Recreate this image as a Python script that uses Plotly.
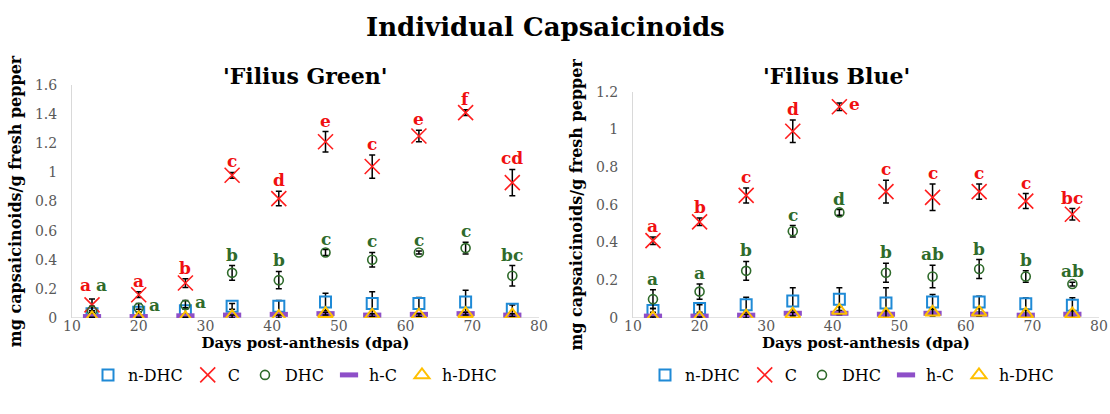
import plotly.graph_objects as go

# ---------------- data ----------------
days = [13, 20, 27, 34, 41, 48, 55, 62, 69, 76]
series_names = ["n-DHC", "C", "DHC", "h-C", "h-DHC"]

# 'Filius Green'
green_ndhc = [0.03, 0.04, 0.05, 0.08, 0.08, 0.11, 0.10, 0.10, 0.11, 0.06]
green_ndhc_err = [0.01, 0.02, 0.02, 0.02, 0.04, 0.06, 0.08, 0.04, 0.08, 0.03]
green_c = [0.09, 0.16, 0.24, 0.98, 0.82, 1.21, 1.04, 1.25, 1.41, 0.93]
green_c_err = [0.04, 0.02, 0.03, 0.02, 0.05, 0.07, 0.08, 0.04, 0.02, 0.09]
green_dhc = [0.05, 0.07, 0.09, 0.31, 0.26, 0.45, 0.40, 0.45, 0.48, 0.29]
green_dhc_err = [0.03, 0.03, 0.03, 0.05, 0.06, 0.02, 0.05, 0.01, 0.04, 0.07]
green_hc = [0.01, 0.01, 0.015, 0.02, 0.025, 0.03, 0.02, 0.025, 0.03, 0.02]
green_hc_err = [0.005, 0.005, 0.005, 0.01, 0.01, 0.01, 0.01, 0.01, 0.01, 0.01]
green_hdhc = [0.0, 0.0, 0.0, 0.01, 0.01, 0.03, 0.02, 0.02, 0.03, 0.02]
green_hdhc_err = [0.005, 0.005, 0.005, 0.01, 0.01, 0.01, 0.01, 0.01, 0.01, 0.01]
green_c_letters = ["a", "a", "b", "c", "d", "e", "c", "e", "f", "cd"]
green_dhc_letters = ["a", "a", "a", "b", "b", "c", "c", "c", "c", "bc"]

# 'Filius Blue'
blue_ndhc = [0.04, 0.05, 0.07, 0.09, 0.10, 0.08, 0.085, 0.085, 0.076, 0.067]
blue_ndhc_err = [0.01, 0.02, 0.04, 0.07, 0.06, 0.08, 0.04, 0.03, 0.03, 0.04]
blue_c = [0.41, 0.51, 0.65, 0.99, 1.12, 0.67, 0.64, 0.67, 0.62, 0.55]
blue_c_err = [0.02, 0.02, 0.04, 0.06, 0.02, 0.06, 0.07, 0.04, 0.04, 0.03]
blue_dhc = [0.10, 0.14, 0.25, 0.46, 0.56, 0.24, 0.22, 0.26, 0.22, 0.18]
blue_dhc_err = [0.05, 0.04, 0.05, 0.03, 0.015, 0.05, 0.06, 0.05, 0.03, 0.01]
blue_hc = [0.01, 0.01, 0.015, 0.025, 0.025, 0.02, 0.025, 0.02, 0.015, 0.02]
blue_hc_err = [0.005, 0.005, 0.005, 0.01, 0.01, 0.01, 0.01, 0.01, 0.01, 0.01]
blue_hdhc = [0.0, 0.0, 0.01, 0.02, 0.04, 0.02, 0.03, 0.03, 0.02, 0.02]
blue_hdhc_err = [0.005, 0.005, 0.01, 0.01, 0.02, 0.02, 0.02, 0.02, 0.02, 0.02]
blue_c_letters = ["a", "b", "c", "d", "e", "c", "c", "c", "c", "bc"]
blue_dhc_letters = ["a", "a", "b", "c", "d", "b", "ab", "b", "b", "ab"]

# ---------------- styles ----------------
FONT = "DejaVu Serif"
COL = {"n-DHC": "#1f8ad6", "C": "#ff1f1f", "DHC": "#2f6b2b", "h-C": "#8e4fc8", "h-DHC": "#ffc000"}
LETTER_RED = "#f01010"
LETTER_GREEN = "#2f6b2b"
MARK = {
    "n-DHC": dict(symbol="square-open", size=11, line=dict(width=2, color=COL["n-DHC"])),
    "C": dict(symbol="x-thin-open", size=15, line=dict(width=1.6, color=COL["C"])),
    "DHC": dict(symbol="circle-open", size=9, line=dict(width=1.6, color=COL["DHC"])),
    "h-C": dict(symbol="line-ew-open", size=13, line=dict(width=5, color=COL["h-C"])),
    "h-DHC": dict(symbol="triangle-up-open", size=13, line=dict(width=2, color=COL["h-DHC"])),
}

fig = go.Figure()

panels = [
    dict(xa="x", ya="y", legend="legend",
         vals=[green_ndhc, green_c, green_dhc, green_hc, green_hdhc],
         errs=[green_ndhc_err, green_c_err, green_dhc_err, green_hc_err, green_hdhc_err],
         c_letters=green_c_letters, dhc_letters=green_dhc_letters),
    dict(xa="x2", ya="y2", legend="legend2",
         vals=[blue_ndhc, blue_c, blue_dhc, blue_hc, blue_hdhc],
         errs=[blue_ndhc_err, blue_c_err, blue_dhc_err, blue_hc_err, blue_hdhc_err],
         c_letters=blue_c_letters, dhc_letters=blue_dhc_letters),
]

for p in panels:
    for name, v, e in zip(series_names, p["vals"], p["errs"]):
        fig.add_trace(go.Scatter(
            x=days, y=v, mode="markers", name=name,
            marker=dict(color=COL[name], **MARK[name]),
            error_y=dict(type="data", array=e, visible=True, color="black", thickness=1.5, width=3),
            xaxis=p["xa"], yaxis=p["ya"], legend=p["legend"],
        ))

# significance letters (placement overrides: panel index, series, point index)
side_right = {(0, "DHC", 1), (0, "DHC", 2), (1, "C", 4)}
pair_left = {(0, "C", 0)}
pair_right = {(0, "DHC", 0)}

for pi, p in enumerate(panels):
    for key, letters, vals, errs, col in [
        ("C", p["c_letters"], p["vals"][1], p["errs"][1], LETTER_RED),
        ("DHC", p["dhc_letters"], p["vals"][2], p["errs"][2], LETTER_GREEN),
    ]:
        for i, (d, L, v, e) in enumerate(zip(days, letters, vals, errs)):
            ann = dict(x=d, text="<b>%s</b>" % L, showarrow=False,
                       xref=p["xa"], yref=p["ya"],
                       font=dict(family=FONT, size=17, color=col))
            k = (pi, key, i)
            if k in side_right:
                ann.update(y=v, xanchor="left", yanchor="middle", xshift=8, yshift=3)
            elif k in pair_left:
                ann.update(y=v + e, xanchor="center", yanchor="bottom", xshift=-7, yshift=2)
            elif k in pair_right:
                # sits next to the red letter, above the C marker
                cv = p["vals"][1][i] + p["errs"][1][i]
                ann.update(y=cv, xanchor="center", yanchor="bottom", xshift=9, yshift=2)
            else:
                ann.update(y=v + e, xanchor="center", yanchor="bottom", yshift=-1)
            fig.add_annotation(**ann)

# titles
fig.add_annotation(text="<b>Individual Capsaicinoids</b>", x=545 / 1110, y=1 - 27 / 414,
                   xref="paper", yref="paper", showarrow=False, xanchor="center", yanchor="middle",
                   font=dict(family=FONT, size=26, color="black"))
fig.add_annotation(text="<b>'Filius Green'</b>", x=305 / 1110, y=1 - 76 / 414,
                   xref="paper", yref="paper", showarrow=False, xanchor="center", yanchor="middle",
                   font=dict(family=FONT, size=22, color="black"))
fig.add_annotation(text="<b>'Filius Blue'</b>", x=836 / 1110, y=1 - 76 / 414,
                   xref="paper", yref="paper", showarrow=False, xanchor="center", yanchor="middle",
                   font=dict(family=FONT, size=22, color="black"))

W, H = 1110, 414
axis_common = dict(showgrid=False, zeroline=False, ticks="", automargin=False,
                   tickfont=dict(family=FONT, size=14, color="#595959"))
xcommon = dict(axis_common, range=[10, 80], dtick=10, showline=False,
               ticklabelstandoff=-2,
               title=dict(text="<b>Days post-anthesis (dpa)</b>", standoff=0,
                          font=dict(family=FONT, size=15, color="black")))
ycommon = dict(axis_common, showline=True, linecolor="#d9d9d9", linewidth=1,
               ticklabelstandoff=11,
               title=dict(text="<b>mg capsaicinoids/g fresh pepper</b>", standoff=9,
                          font=dict(family=FONT, size=16, color="black")))

fig.update_layout(
    width=W, height=H,
    font=dict(family=FONT),
    margin=dict(l=0, r=0, t=0, b=0),
    paper_bgcolor="white", plot_bgcolor="white",
    xaxis=dict(xcommon, domain=[72 / W, 539 / W], anchor="y"),
    yaxis=dict(ycommon, domain=[96 / H, (H - 85) / H], range=[0, 1.6], anchor="x",
               tickvals=[0, 0.2, 0.4, 0.6, 0.8, 1.0, 1.2, 1.4, 1.6],
               ticktext=["0", "0.2", "0.4", "0.6", "0.8", "1", "1.2", "1.4", "1.6"]),
    xaxis2=dict(xcommon, domain=[633 / W, 1099 / W], anchor="y2"),
    yaxis2=dict(ycommon, domain=[96 / H, (H - 91.7) / H], range=[0, 1.2], anchor="x2",
                tickvals=[0, 0.2, 0.4, 0.6, 0.8, 1.0, 1.2],
                ticktext=["0", "0.2", "0.4", "0.6", "0.8", "1", "1.2"]),
    legend=dict(orientation="h", x=295 / W, y=(H - 375) / H, xanchor="center", yanchor="middle",
                font=dict(family=FONT, size=16, color="black"), itemwidth=30,
                bgcolor="rgba(0,0,0,0)"),
    legend2=dict(orientation="h", x=852 / W, y=(H - 375) / H, xanchor="center", yanchor="middle",
                 font=dict(family=FONT, size=16, color="black"), itemwidth=30,
                 bgcolor="rgba(0,0,0,0)"),
    shapes=[
        dict(type="line", xref="x", yref="y", x0=10, x1=80, y0=0, y1=0,
             line=dict(color="#d9d9d9", width=1.5), layer="below"),
        dict(type="line", xref="x2", yref="y2", x0=10, x1=80, y0=0, y1=0,
             line=dict(color="#d9d9d9", width=1.5), layer="below"),
    ],
)

fig.write_html("out.html", config={"displayModeBar": False},
               post_script="document.body.style.margin='0';document.body.style.overflow='hidden';")
